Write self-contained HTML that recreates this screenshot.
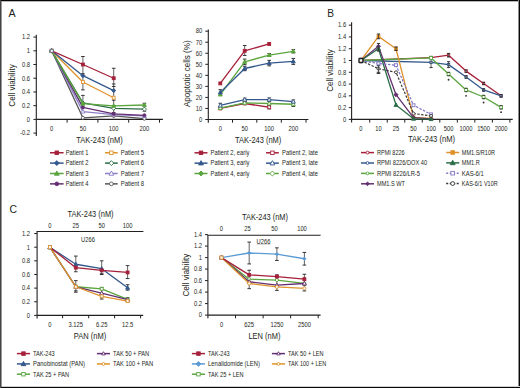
<!DOCTYPE html>
<html><head><meta charset="utf-8"><style>
html,body{margin:0;padding:0;background:#fff;}
body{width:520px;height:388px;overflow:hidden;position:relative;}
svg{display:block;position:absolute;left:0;top:0;}
text{font-family:'Liberation Sans', sans-serif;}
</style></head><body>
<svg width="520" height="388" viewBox="0 0 520 388">
<rect x="0" y="0" width="520" height="388" fill="#fff"/>
<text x="0" y="3.69" font-size="10.7" text-anchor="start" fill="#231f20" transform="translate(8.60 12.90)">A</text>
<line x1="36.30" y1="34.70" x2="36.30" y2="136.10" stroke="#231f20" stroke-width="1.1" stroke-linecap="butt"/>
<line x1="36.30" y1="119.40" x2="162.90" y2="119.40" stroke="#231f20" stroke-width="1.1" stroke-linecap="butt"/>
<line x1="33.40" y1="37.08" x2="36.30" y2="37.08" stroke="#231f20" stroke-width="1" stroke-linecap="butt"/>
<text x="0" y="2.31" font-size="6.7" text-anchor="end" fill="#231f20" transform="translate(30.10 37.08) scale(0.87 1)">1.2</text>
<line x1="33.40" y1="50.80" x2="36.30" y2="50.80" stroke="#231f20" stroke-width="1" stroke-linecap="butt"/>
<text x="0" y="2.31" font-size="6.7" text-anchor="end" fill="#231f20" transform="translate(30.10 50.80) scale(0.87 1)">1</text>
<line x1="33.40" y1="64.52" x2="36.30" y2="64.52" stroke="#231f20" stroke-width="1" stroke-linecap="butt"/>
<text x="0" y="2.31" font-size="6.7" text-anchor="end" fill="#231f20" transform="translate(30.10 64.52) scale(0.87 1)">0.8</text>
<line x1="33.40" y1="78.24" x2="36.30" y2="78.24" stroke="#231f20" stroke-width="1" stroke-linecap="butt"/>
<text x="0" y="2.31" font-size="6.7" text-anchor="end" fill="#231f20" transform="translate(30.10 78.24) scale(0.87 1)">0.6</text>
<line x1="33.40" y1="91.96" x2="36.30" y2="91.96" stroke="#231f20" stroke-width="1" stroke-linecap="butt"/>
<text x="0" y="2.31" font-size="6.7" text-anchor="end" fill="#231f20" transform="translate(30.10 91.96) scale(0.87 1)">0.4</text>
<line x1="33.40" y1="105.68" x2="36.30" y2="105.68" stroke="#231f20" stroke-width="1" stroke-linecap="butt"/>
<text x="0" y="2.31" font-size="6.7" text-anchor="end" fill="#231f20" transform="translate(30.10 105.68) scale(0.87 1)">0.2</text>
<line x1="33.40" y1="119.40" x2="36.30" y2="119.40" stroke="#231f20" stroke-width="1" stroke-linecap="butt"/>
<text x="0" y="2.31" font-size="6.7" text-anchor="end" fill="#231f20" transform="translate(30.10 119.40) scale(0.87 1)">0</text>
<line x1="33.40" y1="133.12" x2="36.30" y2="133.12" stroke="#231f20" stroke-width="1" stroke-linecap="butt"/>
<text x="0" y="2.31" font-size="6.7" text-anchor="end" fill="#231f20" transform="translate(30.10 133.12) scale(0.87 1)">-0.2</text>
<line x1="67.10" y1="119.40" x2="67.10" y2="122.70" stroke="#231f20" stroke-width="1" stroke-linecap="butt"/>
<line x1="97.90" y1="119.40" x2="97.90" y2="122.70" stroke="#231f20" stroke-width="1" stroke-linecap="butt"/>
<line x1="128.70" y1="119.40" x2="128.70" y2="122.70" stroke="#231f20" stroke-width="1" stroke-linecap="butt"/>
<line x1="159.50" y1="119.40" x2="159.50" y2="122.70" stroke="#231f20" stroke-width="1" stroke-linecap="butt"/>
<text x="0" y="2.31" font-size="6.7" text-anchor="middle" fill="#231f20" transform="translate(51.70 128.60) scale(0.87 1)">0</text>
<text x="0" y="2.31" font-size="6.7" text-anchor="middle" fill="#231f20" transform="translate(82.90 128.60) scale(0.87 1)">50</text>
<text x="0" y="2.31" font-size="6.7" text-anchor="middle" fill="#231f20" transform="translate(113.70 128.60) scale(0.87 1)">100</text>
<text x="0" y="2.31" font-size="6.7" text-anchor="middle" fill="#231f20" transform="translate(144.40 128.60) scale(0.87 1)">200</text>
<text x="0" y="3.04" font-size="8.8" text-anchor="middle" fill="#231f20" transform="translate(99.50 139.90)" textLength="46.5" lengthAdjust="spacingAndGlyphs">TAK-243 (nM)</text>
<text x="0" y="3.04" font-size="8.8" text-anchor="middle" fill="#231f20" transform="translate(11.70 85.50) rotate(-90)" textLength="42.3" lengthAdjust="spacingAndGlyphs">Cell viability</text>
<line x1="82.90" y1="56.49" x2="82.90" y2="89.90" stroke="#3a3a3a" stroke-width="0.8" stroke-linecap="butt"/>
<line x1="81.10" y1="56.49" x2="84.70" y2="56.49" stroke="#231f20" stroke-width="0.9" stroke-linecap="butt"/>
<line x1="81.10" y1="73.71" x2="84.70" y2="73.71" stroke="#231f20" stroke-width="0.9" stroke-linecap="butt"/>
<line x1="81.10" y1="89.90" x2="84.70" y2="89.90" stroke="#231f20" stroke-width="0.9" stroke-linecap="butt"/>
<line x1="82.90" y1="95.39" x2="82.90" y2="109.11" stroke="#3a3a3a" stroke-width="0.8" stroke-linecap="butt"/>
<line x1="81.10" y1="95.39" x2="84.70" y2="95.39" stroke="#231f20" stroke-width="0.9" stroke-linecap="butt"/>
<line x1="113.70" y1="68.29" x2="113.70" y2="118.03" stroke="#3a3a3a" stroke-width="0.8" stroke-linecap="butt"/>
<line x1="111.90" y1="68.29" x2="115.50" y2="68.29" stroke="#231f20" stroke-width="0.9" stroke-linecap="butt"/>
<line x1="111.90" y1="84.00" x2="115.50" y2="84.00" stroke="#231f20" stroke-width="0.9" stroke-linecap="butt"/>
<line x1="111.90" y1="86.47" x2="115.50" y2="86.47" stroke="#231f20" stroke-width="0.9" stroke-linecap="butt"/>
<line x1="111.90" y1="100.19" x2="115.50" y2="100.19" stroke="#231f20" stroke-width="0.9" stroke-linecap="butt"/>
<line x1="111.90" y1="105.68" x2="115.50" y2="105.68" stroke="#231f20" stroke-width="0.9" stroke-linecap="butt"/>
<line x1="111.90" y1="112.54" x2="115.50" y2="112.54" stroke="#231f20" stroke-width="0.9" stroke-linecap="butt"/>
<line x1="144.40" y1="103.28" x2="144.40" y2="111.17" stroke="#3a3a3a" stroke-width="0.8" stroke-linecap="butt"/>
<line x1="142.60" y1="103.28" x2="146.20" y2="103.28" stroke="#231f20" stroke-width="0.9" stroke-linecap="butt"/>
<line x1="142.60" y1="111.17" x2="146.20" y2="111.17" stroke="#231f20" stroke-width="0.9" stroke-linecap="butt"/>
<polyline points="51.70,50.80 82.90,117.82 113.70,115.97 144.40,118.71" fill="none" stroke="#555555" stroke-width="1.3" stroke-linejoin="round"/>
<circle cx="51.70" cy="50.80" r="1.55" fill="#fff" stroke="#555555" stroke-width="0.9"/>
<circle cx="82.90" cy="117.82" r="1.55" fill="#fff" stroke="#555555" stroke-width="0.9"/>
<circle cx="113.70" cy="115.97" r="1.55" fill="#fff" stroke="#555555" stroke-width="0.9"/>
<circle cx="144.40" cy="118.71" r="1.55" fill="#fff" stroke="#555555" stroke-width="0.9"/>
<polyline points="51.70,50.80 82.90,111.58 113.70,114.60 144.40,115.97" fill="none" stroke="#8c7ec8" stroke-width="1.3" stroke-linejoin="round"/>
<polygon points="51.70,48.70 53.70,52.27 49.71,52.27" fill="#fff" stroke="#8c7ec8" stroke-width="0.9"/>
<polygon points="82.90,109.48 84.90,113.05 80.91,113.05" fill="#fff" stroke="#8c7ec8" stroke-width="0.9"/>
<polygon points="113.70,112.50 115.70,116.07 111.70,116.07" fill="#fff" stroke="#8c7ec8" stroke-width="0.9"/>
<polygon points="144.40,113.87 146.40,117.44 142.41,117.44" fill="#fff" stroke="#8c7ec8" stroke-width="0.9"/>
<polyline points="51.70,50.80 82.90,107.33 113.70,113.91 144.40,115.28" fill="none" stroke="#632f72" stroke-width="1.3" stroke-linejoin="round"/>
<circle cx="51.70" cy="50.80" r="1.55" fill="#632f72" stroke="#632f72" stroke-width="0.9"/>
<circle cx="82.90" cy="107.33" r="1.55" fill="#632f72" stroke="#632f72" stroke-width="0.9"/>
<circle cx="113.70" cy="113.91" r="1.55" fill="#632f72" stroke="#632f72" stroke-width="0.9"/>
<circle cx="144.40" cy="115.28" r="1.55" fill="#632f72" stroke="#632f72" stroke-width="0.9"/>
<polyline points="51.70,50.80 82.90,102.94 113.70,108.29 144.40,109.11" fill="none" stroke="#2d6e47" stroke-width="1.3" stroke-linejoin="round"/>
<polygon points="51.70,48.75 53.75,50.80 51.70,52.85 49.65,50.80" fill="#fff" stroke="#2d6e47" stroke-width="0.9"/>
<polygon points="82.90,100.89 84.95,102.94 82.90,104.99 80.85,102.94" fill="#fff" stroke="#2d6e47" stroke-width="0.9"/>
<polygon points="113.70,106.24 115.75,108.29 113.70,110.34 111.65,108.29" fill="#fff" stroke="#2d6e47" stroke-width="0.9"/>
<polygon points="144.40,107.06 146.45,109.11 144.40,111.16 142.35,109.11" fill="#fff" stroke="#2d6e47" stroke-width="0.9"/>
<polyline points="51.70,50.80 82.90,103.69 113.70,105.82 144.40,104.99" fill="none" stroke="#5aa53e" stroke-width="1.3" stroke-linejoin="round"/>
<polygon points="51.70,48.70 53.70,52.27 49.71,52.27" fill="#5aa53e" stroke="#5aa53e" stroke-width="0.9"/>
<polygon points="82.90,101.59 84.90,105.16 80.91,105.16" fill="#5aa53e" stroke="#5aa53e" stroke-width="0.9"/>
<polygon points="113.70,103.72 115.70,107.29 111.70,107.29" fill="#5aa53e" stroke="#5aa53e" stroke-width="0.9"/>
<polygon points="144.40,102.89 146.40,106.46 142.41,106.46" fill="#5aa53e" stroke="#5aa53e" stroke-width="0.9"/>
<polyline points="51.70,50.80 82.90,82.01 113.70,97.72" fill="none" stroke="#df932d" stroke-width="1.3" stroke-linejoin="round"/>
<rect x="50.25" y="49.35" width="2.90" height="2.90" fill="#fff" stroke="#df932d" stroke-width="0.9"/>
<rect x="81.45" y="80.56" width="2.90" height="2.90" fill="#fff" stroke="#df932d" stroke-width="0.9"/>
<rect x="112.25" y="96.27" width="2.90" height="2.90" fill="#fff" stroke="#df932d" stroke-width="0.9"/>
<polyline points="51.70,50.80 82.90,75.70 113.70,90.59" fill="none" stroke="#33588c" stroke-width="1.3" stroke-linejoin="round"/>
<polygon points="51.70,48.75 53.75,50.80 51.70,52.85 49.65,50.80" fill="#33588c" stroke="#33588c" stroke-width="0.9"/>
<polygon points="82.90,73.65 84.95,75.70 82.90,77.75 80.85,75.70" fill="#33588c" stroke="#33588c" stroke-width="0.9"/>
<polygon points="113.70,88.54 115.75,90.59 113.70,92.64 111.65,90.59" fill="#33588c" stroke="#33588c" stroke-width="0.9"/>
<polyline points="51.70,50.80 82.90,64.52 113.70,78.24" fill="none" stroke="#a6203a" stroke-width="1.3" stroke-linejoin="round"/>
<rect x="81.45" y="63.07" width="2.90" height="2.90" fill="#a6203a" stroke="#a6203a" stroke-width="0.9"/>
<rect x="112.25" y="76.79" width="2.90" height="2.90" fill="#a6203a" stroke="#a6203a" stroke-width="0.9"/>
<rect x="50.18" y="49.28" width="3.04" height="3.04" fill="#fff" stroke="#6a6a7a" stroke-width="0.9"/>
<line x1="50.00" y1="152.75" x2="63.60" y2="152.75" stroke="#a6203a" stroke-width="1.5" stroke-linecap="butt"/>
<rect x="55.06" y="151.01" width="3.48" height="3.48" fill="#a6203a" stroke="#a6203a" stroke-width="0.9"/>
<text x="0" y="2.31" font-size="6.7" text-anchor="start" fill="#231f20" transform="translate(65.80 152.75)" textLength="22.6" lengthAdjust="spacingAndGlyphs">Patient 1</text>
<line x1="50.00" y1="163.12" x2="63.60" y2="163.12" stroke="#33588c" stroke-width="1.5" stroke-linecap="butt"/>
<polygon points="56.80,160.66 59.26,163.12 56.80,165.58 54.34,163.12" fill="#33588c" stroke="#33588c" stroke-width="0.9"/>
<text x="0" y="2.31" font-size="6.7" text-anchor="start" fill="#231f20" transform="translate(65.80 163.12)" textLength="22.6" lengthAdjust="spacingAndGlyphs">Patient 2</text>
<line x1="50.00" y1="173.49" x2="63.60" y2="173.49" stroke="#5aa53e" stroke-width="1.5" stroke-linecap="butt"/>
<polygon points="56.80,170.97 59.19,175.25 54.41,175.25" fill="#5aa53e" stroke="#5aa53e" stroke-width="0.9"/>
<text x="0" y="2.31" font-size="6.7" text-anchor="start" fill="#231f20" transform="translate(65.80 173.49)" textLength="22.6" lengthAdjust="spacingAndGlyphs">Patient 3</text>
<line x1="50.00" y1="183.86" x2="63.60" y2="183.86" stroke="#632f72" stroke-width="1.5" stroke-linecap="butt"/>
<circle cx="56.80" cy="183.86" r="1.86" fill="#632f72" stroke="#632f72" stroke-width="0.9"/>
<text x="0" y="2.31" font-size="6.7" text-anchor="start" fill="#231f20" transform="translate(65.80 183.86)" textLength="22.6" lengthAdjust="spacingAndGlyphs">Patient 4</text>
<line x1="105.00" y1="152.75" x2="117.70" y2="152.75" stroke="#df932d" stroke-width="1.5" stroke-linecap="butt"/>
<rect x="109.61" y="151.01" width="3.48" height="3.48" fill="#fff" stroke="#df932d" stroke-width="0.9"/>
<text x="0" y="2.31" font-size="6.7" text-anchor="start" fill="#231f20" transform="translate(120.80 152.75)" textLength="23.2" lengthAdjust="spacingAndGlyphs">Patient 5</text>
<line x1="105.00" y1="163.12" x2="117.70" y2="163.12" stroke="#2d6e47" stroke-width="1.5" stroke-linecap="butt"/>
<polygon points="111.35,160.66 113.81,163.12 111.35,165.58 108.89,163.12" fill="#fff" stroke="#2d6e47" stroke-width="0.9"/>
<text x="0" y="2.31" font-size="6.7" text-anchor="start" fill="#231f20" transform="translate(120.80 163.12)" textLength="23.2" lengthAdjust="spacingAndGlyphs">Patient 6</text>
<line x1="105.00" y1="173.49" x2="117.70" y2="173.49" stroke="#8c7ec8" stroke-width="1.5" stroke-linecap="butt"/>
<polygon points="111.35,170.97 113.74,175.25 108.96,175.25" fill="#fff" stroke="#8c7ec8" stroke-width="0.9"/>
<text x="0" y="2.31" font-size="6.7" text-anchor="start" fill="#231f20" transform="translate(120.80 173.49)" textLength="23.2" lengthAdjust="spacingAndGlyphs">Patient 7</text>
<line x1="105.00" y1="183.86" x2="117.70" y2="183.86" stroke="#555555" stroke-width="1.5" stroke-linecap="butt"/>
<circle cx="111.35" cy="183.86" r="1.86" fill="#fff" stroke="#555555" stroke-width="0.9"/>
<text x="0" y="2.31" font-size="6.7" text-anchor="start" fill="#231f20" transform="translate(120.80 183.86)" textLength="23.2" lengthAdjust="spacingAndGlyphs">Patient 8</text>
<line x1="208.30" y1="29.50" x2="208.30" y2="122.70" stroke="#231f20" stroke-width="1.1" stroke-linecap="butt"/>
<line x1="208.30" y1="119.50" x2="308.40" y2="119.50" stroke="#231f20" stroke-width="1.1" stroke-linecap="butt"/>
<line x1="205.30" y1="119.50" x2="208.30" y2="119.50" stroke="#231f20" stroke-width="1" stroke-linecap="butt"/>
<text x="0" y="2.31" font-size="6.7" text-anchor="end" fill="#231f20" transform="translate(202.30 119.50) scale(0.87 1)">0</text>
<line x1="205.30" y1="108.46" x2="208.30" y2="108.46" stroke="#231f20" stroke-width="1" stroke-linecap="butt"/>
<text x="0" y="2.31" font-size="6.7" text-anchor="end" fill="#231f20" transform="translate(202.30 108.46) scale(0.87 1)">10</text>
<line x1="205.30" y1="97.42" x2="208.30" y2="97.42" stroke="#231f20" stroke-width="1" stroke-linecap="butt"/>
<text x="0" y="2.31" font-size="6.7" text-anchor="end" fill="#231f20" transform="translate(202.30 97.42) scale(0.87 1)">20</text>
<line x1="205.30" y1="86.38" x2="208.30" y2="86.38" stroke="#231f20" stroke-width="1" stroke-linecap="butt"/>
<text x="0" y="2.31" font-size="6.7" text-anchor="end" fill="#231f20" transform="translate(202.30 86.38) scale(0.87 1)">30</text>
<line x1="205.30" y1="75.34" x2="208.30" y2="75.34" stroke="#231f20" stroke-width="1" stroke-linecap="butt"/>
<text x="0" y="2.31" font-size="6.7" text-anchor="end" fill="#231f20" transform="translate(202.30 75.34) scale(0.87 1)">40</text>
<line x1="205.30" y1="64.30" x2="208.30" y2="64.30" stroke="#231f20" stroke-width="1" stroke-linecap="butt"/>
<text x="0" y="2.31" font-size="6.7" text-anchor="end" fill="#231f20" transform="translate(202.30 64.30) scale(0.87 1)">50</text>
<line x1="205.30" y1="53.26" x2="208.30" y2="53.26" stroke="#231f20" stroke-width="1" stroke-linecap="butt"/>
<text x="0" y="2.31" font-size="6.7" text-anchor="end" fill="#231f20" transform="translate(202.30 53.26) scale(0.87 1)">60</text>
<line x1="205.30" y1="42.22" x2="208.30" y2="42.22" stroke="#231f20" stroke-width="1" stroke-linecap="butt"/>
<text x="0" y="2.31" font-size="6.7" text-anchor="end" fill="#231f20" transform="translate(202.30 42.22) scale(0.87 1)">70</text>
<line x1="205.30" y1="31.18" x2="208.30" y2="31.18" stroke="#231f20" stroke-width="1" stroke-linecap="butt"/>
<text x="0" y="2.31" font-size="6.7" text-anchor="end" fill="#231f20" transform="translate(202.30 31.18) scale(0.87 1)">80</text>
<line x1="232.50" y1="119.50" x2="232.50" y2="122.70" stroke="#231f20" stroke-width="1" stroke-linecap="butt"/>
<line x1="256.80" y1="119.50" x2="256.80" y2="122.70" stroke="#231f20" stroke-width="1" stroke-linecap="butt"/>
<line x1="281.30" y1="119.50" x2="281.30" y2="122.70" stroke="#231f20" stroke-width="1" stroke-linecap="butt"/>
<line x1="306.00" y1="119.50" x2="306.00" y2="122.70" stroke="#231f20" stroke-width="1" stroke-linecap="butt"/>
<text x="0" y="2.31" font-size="6.7" text-anchor="middle" fill="#231f20" transform="translate(220.30 128.70) scale(0.87 1)">0</text>
<text x="0" y="2.31" font-size="6.7" text-anchor="middle" fill="#231f20" transform="translate(244.70 128.70) scale(0.87 1)">50</text>
<text x="0" y="2.31" font-size="6.7" text-anchor="middle" fill="#231f20" transform="translate(269.20 128.70) scale(0.87 1)">100</text>
<text x="0" y="2.31" font-size="6.7" text-anchor="middle" fill="#231f20" transform="translate(293.30 128.70) scale(0.87 1)">200</text>
<text x="0" y="3.04" font-size="8.8" text-anchor="middle" fill="#231f20" transform="translate(258.10 139.50)" textLength="46.3" lengthAdjust="spacingAndGlyphs">TAK-243 (nM)</text>
<text x="0" y="3.04" font-size="8.8" text-anchor="middle" fill="#231f20" transform="translate(187.20 73.70) rotate(-90)" textLength="66.7" lengthAdjust="spacingAndGlyphs">Apoptotic cells (%)</text>
<line x1="244.70" y1="45.53" x2="244.70" y2="55.47" stroke="#3a3a3a" stroke-width="0.8" stroke-linecap="butt"/>
<line x1="242.90" y1="45.53" x2="246.50" y2="45.53" stroke="#231f20" stroke-width="0.9" stroke-linecap="butt"/>
<line x1="242.90" y1="55.47" x2="246.50" y2="55.47" stroke="#231f20" stroke-width="0.9" stroke-linecap="butt"/>
<line x1="244.70" y1="59.11" x2="244.70" y2="64.63" stroke="#3a3a3a" stroke-width="0.8" stroke-linecap="butt"/>
<line x1="242.90" y1="59.11" x2="246.50" y2="59.11" stroke="#231f20" stroke-width="0.9" stroke-linecap="butt"/>
<line x1="242.90" y1="64.63" x2="246.50" y2="64.63" stroke="#231f20" stroke-width="0.9" stroke-linecap="butt"/>
<line x1="244.70" y1="66.29" x2="244.70" y2="70.70" stroke="#3a3a3a" stroke-width="0.8" stroke-linecap="butt"/>
<line x1="242.90" y1="66.29" x2="246.50" y2="66.29" stroke="#231f20" stroke-width="0.9" stroke-linecap="butt"/>
<line x1="242.90" y1="70.70" x2="246.50" y2="70.70" stroke="#231f20" stroke-width="0.9" stroke-linecap="butt"/>
<line x1="269.20" y1="53.59" x2="269.20" y2="56.46" stroke="#3a3a3a" stroke-width="0.8" stroke-linecap="butt"/>
<line x1="267.40" y1="53.59" x2="271.00" y2="53.59" stroke="#231f20" stroke-width="0.9" stroke-linecap="butt"/>
<line x1="267.40" y1="56.46" x2="271.00" y2="56.46" stroke="#231f20" stroke-width="0.9" stroke-linecap="butt"/>
<line x1="269.20" y1="60.33" x2="269.20" y2="65.85" stroke="#3a3a3a" stroke-width="0.8" stroke-linecap="butt"/>
<line x1="267.40" y1="60.33" x2="271.00" y2="60.33" stroke="#231f20" stroke-width="0.9" stroke-linecap="butt"/>
<line x1="267.40" y1="65.85" x2="271.00" y2="65.85" stroke="#231f20" stroke-width="0.9" stroke-linecap="butt"/>
<line x1="293.30" y1="49.62" x2="293.30" y2="52.93" stroke="#3a3a3a" stroke-width="0.8" stroke-linecap="butt"/>
<line x1="291.50" y1="49.62" x2="295.10" y2="49.62" stroke="#231f20" stroke-width="0.9" stroke-linecap="butt"/>
<line x1="291.50" y1="52.93" x2="295.10" y2="52.93" stroke="#231f20" stroke-width="0.9" stroke-linecap="butt"/>
<line x1="293.30" y1="58.45" x2="293.30" y2="64.41" stroke="#3a3a3a" stroke-width="0.8" stroke-linecap="butt"/>
<line x1="291.50" y1="58.45" x2="295.10" y2="58.45" stroke="#231f20" stroke-width="0.9" stroke-linecap="butt"/>
<line x1="291.50" y1="64.41" x2="295.10" y2="64.41" stroke="#231f20" stroke-width="0.9" stroke-linecap="butt"/>
<line x1="220.30" y1="89.69" x2="220.30" y2="95.21" stroke="#3a3a3a" stroke-width="0.8" stroke-linecap="butt"/>
<line x1="218.50" y1="89.69" x2="222.10" y2="89.69" stroke="#231f20" stroke-width="0.9" stroke-linecap="butt"/>
<line x1="218.50" y1="95.21" x2="222.10" y2="95.21" stroke="#231f20" stroke-width="0.9" stroke-linecap="butt"/>
<line x1="220.30" y1="103.27" x2="220.30" y2="107.69" stroke="#3a3a3a" stroke-width="0.8" stroke-linecap="butt"/>
<line x1="218.50" y1="103.27" x2="222.10" y2="103.27" stroke="#231f20" stroke-width="0.9" stroke-linecap="butt"/>
<line x1="218.50" y1="107.69" x2="222.10" y2="107.69" stroke="#231f20" stroke-width="0.9" stroke-linecap="butt"/>
<line x1="244.70" y1="98.19" x2="244.70" y2="101.06" stroke="#3a3a3a" stroke-width="0.8" stroke-linecap="butt"/>
<line x1="242.90" y1="98.19" x2="246.50" y2="98.19" stroke="#231f20" stroke-width="0.9" stroke-linecap="butt"/>
<line x1="242.90" y1="101.06" x2="246.50" y2="101.06" stroke="#231f20" stroke-width="0.9" stroke-linecap="butt"/>
<line x1="269.20" y1="97.97" x2="269.20" y2="101.28" stroke="#3a3a3a" stroke-width="0.8" stroke-linecap="butt"/>
<line x1="267.40" y1="97.97" x2="271.00" y2="97.97" stroke="#231f20" stroke-width="0.9" stroke-linecap="butt"/>
<line x1="267.40" y1="101.28" x2="271.00" y2="101.28" stroke="#231f20" stroke-width="0.9" stroke-linecap="butt"/>
<line x1="293.30" y1="99.96" x2="293.30" y2="103.27" stroke="#3a3a3a" stroke-width="0.8" stroke-linecap="butt"/>
<line x1="291.50" y1="99.96" x2="295.10" y2="99.96" stroke="#231f20" stroke-width="0.9" stroke-linecap="butt"/>
<line x1="291.50" y1="103.27" x2="295.10" y2="103.27" stroke="#231f20" stroke-width="0.9" stroke-linecap="butt"/>
<line x1="244.70" y1="101.39" x2="244.70" y2="104.26" stroke="#3a3a3a" stroke-width="0.8" stroke-linecap="butt"/>
<line x1="242.90" y1="101.39" x2="246.50" y2="101.39" stroke="#231f20" stroke-width="0.9" stroke-linecap="butt"/>
<line x1="242.90" y1="104.26" x2="246.50" y2="104.26" stroke="#231f20" stroke-width="0.9" stroke-linecap="butt"/>
<line x1="269.20" y1="100.73" x2="269.20" y2="106.25" stroke="#3a3a3a" stroke-width="0.8" stroke-linecap="butt"/>
<line x1="267.40" y1="100.73" x2="271.00" y2="100.73" stroke="#231f20" stroke-width="0.9" stroke-linecap="butt"/>
<line x1="267.40" y1="106.25" x2="271.00" y2="106.25" stroke="#231f20" stroke-width="0.9" stroke-linecap="butt"/>
<line x1="293.30" y1="102.06" x2="293.30" y2="106.47" stroke="#3a3a3a" stroke-width="0.8" stroke-linecap="butt"/>
<line x1="291.50" y1="102.06" x2="295.10" y2="102.06" stroke="#231f20" stroke-width="0.9" stroke-linecap="butt"/>
<line x1="291.50" y1="106.47" x2="295.10" y2="106.47" stroke="#231f20" stroke-width="0.9" stroke-linecap="butt"/>
<line x1="269.20" y1="105.59" x2="269.20" y2="108.90" stroke="#3a3a3a" stroke-width="0.8" stroke-linecap="butt"/>
<line x1="267.40" y1="105.59" x2="271.00" y2="105.59" stroke="#231f20" stroke-width="0.9" stroke-linecap="butt"/>
<line x1="267.40" y1="108.90" x2="271.00" y2="108.90" stroke="#231f20" stroke-width="0.9" stroke-linecap="butt"/>
<polyline points="220.30,108.46 244.70,103.49 269.20,107.25" fill="none" stroke="#a6203a" stroke-width="1.3" stroke-linejoin="round"/>
<rect x="218.85" y="107.01" width="2.90" height="2.90" fill="#fff" stroke="#a6203a" stroke-width="0.9"/>
<rect x="243.25" y="102.04" width="2.90" height="2.90" fill="#fff" stroke="#a6203a" stroke-width="0.9"/>
<rect x="267.75" y="105.80" width="2.90" height="2.90" fill="#fff" stroke="#a6203a" stroke-width="0.9"/>
<polyline points="220.30,108.02 244.70,102.83 269.20,103.49 293.30,104.26" fill="none" stroke="#5aa53e" stroke-width="1.3" stroke-linejoin="round"/>
<polygon points="220.30,105.92 222.30,109.49 218.31,109.49" fill="#fff" stroke="#5aa53e" stroke-width="0.9"/>
<polygon points="244.70,100.73 246.69,104.30 242.70,104.30" fill="#fff" stroke="#5aa53e" stroke-width="0.9"/>
<polygon points="269.20,101.39 271.19,104.96 267.20,104.96" fill="#fff" stroke="#5aa53e" stroke-width="0.9"/>
<polygon points="293.30,102.16 295.30,105.73 291.31,105.73" fill="#fff" stroke="#5aa53e" stroke-width="0.9"/>
<polyline points="220.30,105.48 244.70,99.63 269.20,99.63 293.30,101.62" fill="none" stroke="#33588c" stroke-width="1.3" stroke-linejoin="round"/>
<polygon points="220.30,103.38 222.30,106.95 218.31,106.95" fill="#fff" stroke="#33588c" stroke-width="0.9"/>
<polygon points="244.70,97.53 246.69,101.10 242.70,101.10" fill="#fff" stroke="#33588c" stroke-width="0.9"/>
<polygon points="269.20,97.53 271.19,101.10 267.20,101.10" fill="#fff" stroke="#33588c" stroke-width="0.9"/>
<polygon points="293.30,99.52 295.30,103.09 291.31,103.09" fill="#fff" stroke="#33588c" stroke-width="0.9"/>
<polyline points="220.30,94.55 244.70,61.87 269.20,55.03 293.30,51.27" fill="none" stroke="#5aa53e" stroke-width="1.3" stroke-linejoin="round"/>
<polygon points="220.30,92.45 222.30,96.02 218.31,96.02" fill="#5aa53e" stroke="#5aa53e" stroke-width="0.9"/>
<polygon points="244.70,59.77 246.69,63.34 242.70,63.34" fill="#5aa53e" stroke="#5aa53e" stroke-width="0.9"/>
<polygon points="269.20,52.93 271.19,56.50 267.20,56.50" fill="#5aa53e" stroke="#5aa53e" stroke-width="0.9"/>
<polygon points="293.30,49.17 295.30,52.74 291.31,52.74" fill="#5aa53e" stroke="#5aa53e" stroke-width="0.9"/>
<polyline points="220.30,92.45 244.70,68.50 269.20,63.09 293.30,61.43" fill="none" stroke="#33588c" stroke-width="1.3" stroke-linejoin="round"/>
<polygon points="220.30,90.35 222.30,93.92 218.31,93.92" fill="#33588c" stroke="#33588c" stroke-width="0.9"/>
<polygon points="244.70,66.40 246.69,69.97 242.70,69.97" fill="#33588c" stroke="#33588c" stroke-width="0.9"/>
<polygon points="269.20,60.99 271.19,64.56 267.20,64.56" fill="#33588c" stroke="#33588c" stroke-width="0.9"/>
<polygon points="293.30,59.33 295.30,62.90 291.31,62.90" fill="#33588c" stroke="#33588c" stroke-width="0.9"/>
<polyline points="220.30,83.40 244.70,50.83 269.20,43.99" fill="none" stroke="#a6203a" stroke-width="1.3" stroke-linejoin="round"/>
<rect x="218.85" y="81.95" width="2.90" height="2.90" fill="#a6203a" stroke="#a6203a" stroke-width="0.9"/>
<rect x="243.25" y="49.38" width="2.90" height="2.90" fill="#a6203a" stroke="#a6203a" stroke-width="0.9"/>
<rect x="267.75" y="42.54" width="2.90" height="2.90" fill="#a6203a" stroke="#a6203a" stroke-width="0.9"/>
<line x1="194.50" y1="152.80" x2="207.50" y2="152.80" stroke="#a6203a" stroke-width="1.5" stroke-linecap="butt"/>
<rect x="199.26" y="151.06" width="3.48" height="3.48" fill="#a6203a" stroke="#a6203a" stroke-width="0.9"/>
<text x="0" y="2.31" font-size="6.7" text-anchor="start" fill="#231f20" transform="translate(210.50 152.80)" textLength="39" lengthAdjust="spacingAndGlyphs">Patient 2, early</text>
<line x1="194.50" y1="163.15" x2="207.50" y2="163.15" stroke="#33588c" stroke-width="1.5" stroke-linecap="butt"/>
<polygon points="201.00,160.63 203.39,164.91 198.61,164.91" fill="#33588c" stroke="#33588c" stroke-width="0.9"/>
<text x="0" y="2.31" font-size="6.7" text-anchor="start" fill="#231f20" transform="translate(210.50 163.15)" textLength="39" lengthAdjust="spacingAndGlyphs">Patient 3, early</text>
<line x1="194.50" y1="173.50" x2="207.50" y2="173.50" stroke="#5aa53e" stroke-width="1.5" stroke-linecap="butt"/>
<polygon points="201.00,171.04 203.46,173.50 201.00,175.96 198.54,173.50" fill="#5aa53e" stroke="#5aa53e" stroke-width="0.9"/>
<text x="0" y="2.31" font-size="6.7" text-anchor="start" fill="#231f20" transform="translate(210.50 173.50)" textLength="39" lengthAdjust="spacingAndGlyphs">Patient 4, early</text>
<line x1="266.00" y1="152.80" x2="278.80" y2="152.80" stroke="#a6203a" stroke-width="1.5" stroke-linecap="butt"/>
<rect x="270.66" y="151.06" width="3.48" height="3.48" fill="#fff" stroke="#a6203a" stroke-width="0.9"/>
<text x="0" y="2.31" font-size="6.7" text-anchor="start" fill="#231f20" transform="translate(282.00 152.80)" textLength="36" lengthAdjust="spacingAndGlyphs">Patient 2, late</text>
<line x1="266.00" y1="163.15" x2="278.80" y2="163.15" stroke="#33588c" stroke-width="1.5" stroke-linecap="butt"/>
<polygon points="272.40,160.63 274.79,164.91 270.01,164.91" fill="#fff" stroke="#33588c" stroke-width="0.9"/>
<text x="0" y="2.31" font-size="6.7" text-anchor="start" fill="#231f20" transform="translate(282.00 163.15)" textLength="36" lengthAdjust="spacingAndGlyphs">Patient 3, late</text>
<line x1="266.00" y1="173.50" x2="278.80" y2="173.50" stroke="#5aa53e" stroke-width="1.5" stroke-linecap="butt"/>
<polygon points="272.40,171.04 274.86,173.50 272.40,175.96 269.94,173.50" fill="#fff" stroke="#5aa53e" stroke-width="0.9"/>
<text x="0" y="2.31" font-size="6.7" text-anchor="start" fill="#231f20" transform="translate(282.00 173.50)" textLength="36" lengthAdjust="spacingAndGlyphs">Patient 4, late</text>
<line x1="351.60" y1="22.30" x2="351.60" y2="122.60" stroke="#231f20" stroke-width="1.1" stroke-linecap="butt"/>
<line x1="351.60" y1="119.40" x2="512.70" y2="119.40" stroke="#231f20" stroke-width="1.1" stroke-linecap="butt"/>
<line x1="348.80" y1="119.40" x2="351.60" y2="119.40" stroke="#231f20" stroke-width="1" stroke-linecap="butt"/>
<text x="0" y="2.31" font-size="6.7" text-anchor="end" fill="#231f20" transform="translate(346.20 119.40) scale(0.87 1)">0</text>
<line x1="348.80" y1="107.62" x2="351.60" y2="107.62" stroke="#231f20" stroke-width="1" stroke-linecap="butt"/>
<text x="0" y="2.31" font-size="6.7" text-anchor="end" fill="#231f20" transform="translate(346.20 107.62) scale(0.87 1)">0.2</text>
<line x1="348.80" y1="95.84" x2="351.60" y2="95.84" stroke="#231f20" stroke-width="1" stroke-linecap="butt"/>
<text x="0" y="2.31" font-size="6.7" text-anchor="end" fill="#231f20" transform="translate(346.20 95.84) scale(0.87 1)">0.4</text>
<line x1="348.80" y1="84.06" x2="351.60" y2="84.06" stroke="#231f20" stroke-width="1" stroke-linecap="butt"/>
<text x="0" y="2.31" font-size="6.7" text-anchor="end" fill="#231f20" transform="translate(346.20 84.06) scale(0.87 1)">0.6</text>
<line x1="348.80" y1="72.28" x2="351.60" y2="72.28" stroke="#231f20" stroke-width="1" stroke-linecap="butt"/>
<text x="0" y="2.31" font-size="6.7" text-anchor="end" fill="#231f20" transform="translate(346.20 72.28) scale(0.87 1)">0.8</text>
<line x1="348.80" y1="60.50" x2="351.60" y2="60.50" stroke="#231f20" stroke-width="1" stroke-linecap="butt"/>
<text x="0" y="2.31" font-size="6.7" text-anchor="end" fill="#231f20" transform="translate(346.20 60.50) scale(0.87 1)">1</text>
<line x1="348.80" y1="48.72" x2="351.60" y2="48.72" stroke="#231f20" stroke-width="1" stroke-linecap="butt"/>
<text x="0" y="2.31" font-size="6.7" text-anchor="end" fill="#231f20" transform="translate(346.20 48.72) scale(0.87 1)">1.2</text>
<line x1="348.80" y1="36.94" x2="351.60" y2="36.94" stroke="#231f20" stroke-width="1" stroke-linecap="butt"/>
<text x="0" y="2.31" font-size="6.7" text-anchor="end" fill="#231f20" transform="translate(346.20 36.94) scale(0.87 1)">1.4</text>
<line x1="348.80" y1="25.16" x2="351.60" y2="25.16" stroke="#231f20" stroke-width="1" stroke-linecap="butt"/>
<text x="0" y="2.31" font-size="6.7" text-anchor="end" fill="#231f20" transform="translate(346.20 25.16) scale(0.87 1)">1.6</text>
<line x1="369.72" y1="119.40" x2="369.72" y2="122.60" stroke="#231f20" stroke-width="1" stroke-linecap="butt"/>
<line x1="387.24" y1="119.40" x2="387.24" y2="122.60" stroke="#231f20" stroke-width="1" stroke-linecap="butt"/>
<line x1="404.76" y1="119.40" x2="404.76" y2="122.60" stroke="#231f20" stroke-width="1" stroke-linecap="butt"/>
<line x1="422.28" y1="119.40" x2="422.28" y2="122.60" stroke="#231f20" stroke-width="1" stroke-linecap="butt"/>
<line x1="439.80" y1="119.40" x2="439.80" y2="122.60" stroke="#231f20" stroke-width="1" stroke-linecap="butt"/>
<line x1="457.32" y1="119.40" x2="457.32" y2="122.60" stroke="#231f20" stroke-width="1" stroke-linecap="butt"/>
<line x1="474.84" y1="119.40" x2="474.84" y2="122.60" stroke="#231f20" stroke-width="1" stroke-linecap="butt"/>
<line x1="492.36" y1="119.40" x2="492.36" y2="122.60" stroke="#231f20" stroke-width="1" stroke-linecap="butt"/>
<line x1="509.88" y1="119.40" x2="509.88" y2="122.60" stroke="#231f20" stroke-width="1" stroke-linecap="butt"/>
<text x="0" y="2.31" font-size="6.7" text-anchor="middle" fill="#231f20" transform="translate(360.96 128.50) scale(0.87 1)">0</text>
<text x="0" y="2.31" font-size="6.7" text-anchor="middle" fill="#231f20" transform="translate(378.48 128.50) scale(0.87 1)">10</text>
<text x="0" y="2.31" font-size="6.7" text-anchor="middle" fill="#231f20" transform="translate(396.00 128.50) scale(0.87 1)">25</text>
<text x="0" y="2.31" font-size="6.7" text-anchor="middle" fill="#231f20" transform="translate(413.52 128.50) scale(0.87 1)">50</text>
<text x="0" y="2.31" font-size="6.7" text-anchor="middle" fill="#231f20" transform="translate(431.04 128.50) scale(0.87 1)">100</text>
<text x="0" y="2.31" font-size="6.7" text-anchor="middle" fill="#231f20" transform="translate(448.56 128.50) scale(0.87 1)">500</text>
<text x="0" y="2.31" font-size="6.7" text-anchor="middle" fill="#231f20" transform="translate(466.08 128.50) scale(0.87 1)">1000</text>
<text x="0" y="2.31" font-size="6.7" text-anchor="middle" fill="#231f20" transform="translate(483.60 128.50) scale(0.87 1)">1500</text>
<text x="0" y="2.31" font-size="6.7" text-anchor="middle" fill="#231f20" transform="translate(501.12 128.50) scale(0.87 1)">2000</text>
<text x="0" y="3.04" font-size="8.8" text-anchor="middle" fill="#231f20" transform="translate(431.50 139.40)" textLength="47" lengthAdjust="spacingAndGlyphs">TAK-243 (nM)</text>
<text x="0" y="3.04" font-size="8.8" text-anchor="middle" fill="#231f20" transform="translate(329.50 70.50) rotate(-90)" textLength="42.5" lengthAdjust="spacingAndGlyphs">Cell viability</text>
<text x="0" y="3.52" font-size="10.2" text-anchor="start" fill="#231f20" transform="translate(327.20 13.50)">B</text>
<polyline points="360.96,60.50 431.04,57.56 448.56,55.20 466.08,71.10 483.60,83.47 501.12,95.84" fill="none" stroke="#a6203a" stroke-width="1.3" stroke-linejoin="round"/>
<rect x="359.80" y="59.34" width="2.32" height="2.32" fill="#fff" stroke="#a6203a" stroke-width="0.9"/>
<rect x="429.88" y="56.40" width="2.32" height="2.32" fill="#fff" stroke="#a6203a" stroke-width="0.9"/>
<rect x="447.40" y="54.04" width="2.32" height="2.32" fill="#fff" stroke="#a6203a" stroke-width="0.9"/>
<rect x="464.92" y="69.94" width="2.32" height="2.32" fill="#fff" stroke="#a6203a" stroke-width="0.9"/>
<rect x="482.44" y="82.31" width="2.32" height="2.32" fill="#fff" stroke="#a6203a" stroke-width="0.9"/>
<rect x="499.96" y="94.68" width="2.32" height="2.32" fill="#fff" stroke="#a6203a" stroke-width="0.9"/>
<polyline points="360.96,60.50 431.04,62.38 448.56,64.62 466.08,76.99 483.60,89.95 501.12,95.84" fill="none" stroke="#33588c" stroke-width="1.3" stroke-linejoin="round"/>
<rect x="359.80" y="59.34" width="2.32" height="2.32" fill="#fff" stroke="#33588c" stroke-width="0.9"/>
<rect x="429.88" y="61.22" width="2.32" height="2.32" fill="#fff" stroke="#33588c" stroke-width="0.9"/>
<rect x="447.40" y="63.46" width="2.32" height="2.32" fill="#fff" stroke="#33588c" stroke-width="0.9"/>
<rect x="464.92" y="75.83" width="2.32" height="2.32" fill="#fff" stroke="#33588c" stroke-width="0.9"/>
<rect x="482.44" y="88.79" width="2.32" height="2.32" fill="#fff" stroke="#33588c" stroke-width="0.9"/>
<rect x="499.96" y="94.68" width="2.32" height="2.32" fill="#fff" stroke="#33588c" stroke-width="0.9"/>
<line x1="431.04" y1="56.38" x2="431.04" y2="67.57" stroke="#3a3a3a" stroke-width="0.8" stroke-linecap="butt"/>
<line x1="429.44" y1="56.38" x2="432.64" y2="56.38" stroke="#231f20" stroke-width="0.9" stroke-linecap="butt"/>
<line x1="429.44" y1="67.57" x2="432.64" y2="67.57" stroke="#231f20" stroke-width="0.9" stroke-linecap="butt"/>
<line x1="448.56" y1="53.43" x2="448.56" y2="56.97" stroke="#3a3a3a" stroke-width="0.8" stroke-linecap="butt"/>
<line x1="446.96" y1="53.43" x2="450.16" y2="53.43" stroke="#231f20" stroke-width="0.9" stroke-linecap="butt"/>
<line x1="446.96" y1="56.97" x2="450.16" y2="56.97" stroke="#231f20" stroke-width="0.9" stroke-linecap="butt"/>
<line x1="448.56" y1="61.68" x2="448.56" y2="67.57" stroke="#3a3a3a" stroke-width="0.8" stroke-linecap="butt"/>
<line x1="446.96" y1="61.68" x2="450.16" y2="61.68" stroke="#231f20" stroke-width="0.9" stroke-linecap="butt"/>
<line x1="446.96" y1="67.57" x2="450.16" y2="67.57" stroke="#231f20" stroke-width="0.9" stroke-linecap="butt"/>
<line x1="466.08" y1="69.92" x2="466.08" y2="72.28" stroke="#3a3a3a" stroke-width="0.8" stroke-linecap="butt"/>
<line x1="464.78" y1="69.92" x2="467.38" y2="69.92" stroke="#231f20" stroke-width="0.9" stroke-linecap="butt"/>
<line x1="464.78" y1="72.28" x2="467.38" y2="72.28" stroke="#231f20" stroke-width="0.9" stroke-linecap="butt"/>
<line x1="483.60" y1="82.29" x2="483.60" y2="84.65" stroke="#3a3a3a" stroke-width="0.8" stroke-linecap="butt"/>
<line x1="482.30" y1="82.29" x2="484.90" y2="82.29" stroke="#231f20" stroke-width="0.9" stroke-linecap="butt"/>
<line x1="482.30" y1="84.65" x2="484.90" y2="84.65" stroke="#231f20" stroke-width="0.9" stroke-linecap="butt"/>
<line x1="501.12" y1="94.66" x2="501.12" y2="97.02" stroke="#3a3a3a" stroke-width="0.8" stroke-linecap="butt"/>
<line x1="499.82" y1="94.66" x2="502.42" y2="94.66" stroke="#231f20" stroke-width="0.9" stroke-linecap="butt"/>
<line x1="499.82" y1="97.02" x2="502.42" y2="97.02" stroke="#231f20" stroke-width="0.9" stroke-linecap="butt"/>
<line x1="466.08" y1="75.81" x2="466.08" y2="78.17" stroke="#3a3a3a" stroke-width="0.8" stroke-linecap="butt"/>
<line x1="464.78" y1="75.81" x2="467.38" y2="75.81" stroke="#231f20" stroke-width="0.9" stroke-linecap="butt"/>
<line x1="464.78" y1="78.17" x2="467.38" y2="78.17" stroke="#231f20" stroke-width="0.9" stroke-linecap="butt"/>
<line x1="483.60" y1="88.77" x2="483.60" y2="91.13" stroke="#3a3a3a" stroke-width="0.8" stroke-linecap="butt"/>
<line x1="482.30" y1="88.77" x2="484.90" y2="88.77" stroke="#231f20" stroke-width="0.9" stroke-linecap="butt"/>
<line x1="482.30" y1="91.13" x2="484.90" y2="91.13" stroke="#231f20" stroke-width="0.9" stroke-linecap="butt"/>
<polyline points="360.96,60.50 431.04,57.91 448.56,74.05 466.08,89.95 483.60,97.02 501.12,107.33" fill="none" stroke="#5aa53e" stroke-width="1.3" stroke-linejoin="round"/>
<rect x="359.51" y="59.05" width="2.90" height="2.90" fill="#fff" stroke="#5aa53e" stroke-width="0.9"/>
<rect x="429.59" y="56.46" width="2.90" height="2.90" fill="#fff" stroke="#5aa53e" stroke-width="0.9"/>
<rect x="447.11" y="72.60" width="2.90" height="2.90" fill="#fff" stroke="#5aa53e" stroke-width="0.9"/>
<rect x="464.63" y="88.50" width="2.90" height="2.90" fill="#fff" stroke="#5aa53e" stroke-width="0.9"/>
<rect x="482.15" y="95.57" width="2.90" height="2.90" fill="#fff" stroke="#5aa53e" stroke-width="0.9"/>
<rect x="499.67" y="105.88" width="2.90" height="2.90" fill="#fff" stroke="#5aa53e" stroke-width="0.9"/>
<line x1="447.16" y1="72.28" x2="449.96" y2="72.28" stroke="#231f20" stroke-width="0.8" stroke-linecap="butt"/>
<line x1="447.16" y1="75.81" x2="449.96" y2="75.81" stroke="#231f20" stroke-width="0.8" stroke-linecap="butt"/>
<line x1="464.68" y1="88.18" x2="467.48" y2="88.18" stroke="#231f20" stroke-width="0.8" stroke-linecap="butt"/>
<line x1="464.68" y1="91.72" x2="467.48" y2="91.72" stroke="#231f20" stroke-width="0.8" stroke-linecap="butt"/>
<line x1="482.20" y1="95.25" x2="485.00" y2="95.25" stroke="#231f20" stroke-width="0.8" stroke-linecap="butt"/>
<line x1="482.20" y1="98.79" x2="485.00" y2="98.79" stroke="#231f20" stroke-width="0.8" stroke-linecap="butt"/>
<line x1="499.72" y1="105.56" x2="502.52" y2="105.56" stroke="#231f20" stroke-width="0.8" stroke-linecap="butt"/>
<line x1="499.72" y1="109.09" x2="502.52" y2="109.09" stroke="#231f20" stroke-width="0.8" stroke-linecap="butt"/>
<polyline points="360.96,60.50 378.48,36.35 396.00,48.72 413.52,117.34 431.04,118.52" fill="none" stroke="#df932d" stroke-width="1.3" stroke-linejoin="round"/>
<rect x="359.51" y="59.05" width="2.90" height="2.90" fill="#df932d" stroke="#df932d" stroke-width="0.9"/>
<rect x="377.03" y="34.90" width="2.90" height="2.90" fill="#df932d" stroke="#df932d" stroke-width="0.9"/>
<rect x="394.55" y="47.27" width="2.90" height="2.90" fill="#df932d" stroke="#df932d" stroke-width="0.9"/>
<rect x="412.07" y="115.89" width="2.90" height="2.90" fill="#df932d" stroke="#df932d" stroke-width="0.9"/>
<rect x="429.59" y="117.07" width="2.90" height="2.90" fill="#df932d" stroke="#df932d" stroke-width="0.9"/>
<polyline points="360.96,60.50 378.48,46.36 396.00,94.66 413.52,117.63 431.04,118.81" fill="none" stroke="#632f72" stroke-width="1.3" stroke-linejoin="round"/>
<polygon points="360.96,58.45 363.01,60.50 360.96,62.55 358.91,60.50" fill="#632f72" stroke="#632f72" stroke-width="0.9"/>
<polygon points="378.48,44.31 380.53,46.36 378.48,48.41 376.43,46.36" fill="#632f72" stroke="#632f72" stroke-width="0.9"/>
<polygon points="396.00,92.61 398.05,94.66 396.00,96.71 393.95,94.66" fill="#632f72" stroke="#632f72" stroke-width="0.9"/>
<polygon points="413.52,115.58 415.57,117.63 413.52,119.68 411.47,117.63" fill="#632f72" stroke="#632f72" stroke-width="0.9"/>
<polygon points="431.04,116.76 433.09,118.81 431.04,120.86 428.99,118.81" fill="#632f72" stroke="#632f72" stroke-width="0.9"/>
<polyline points="360.96,60.50 378.48,48.72 396.00,104.97 413.52,118.81 431.04,119.11" fill="none" stroke="#2d6e47" stroke-width="1.3" stroke-linejoin="round"/>
<polygon points="360.96,58.40 362.95,61.97 358.96,61.97" fill="#2d6e47" stroke="#2d6e47" stroke-width="0.9"/>
<polygon points="378.48,46.62 380.47,50.19 376.48,50.19" fill="#2d6e47" stroke="#2d6e47" stroke-width="0.9"/>
<polygon points="396.00,102.87 398.00,106.44 394.00,106.44" fill="#2d6e47" stroke="#2d6e47" stroke-width="0.9"/>
<polygon points="413.52,116.71 415.51,120.28 411.52,120.28" fill="#2d6e47" stroke="#2d6e47" stroke-width="0.9"/>
<polygon points="431.04,117.01 433.03,120.58 429.04,120.58" fill="#2d6e47" stroke="#2d6e47" stroke-width="0.9"/>
<polyline points="360.96,60.50 378.48,63.45 396.00,65.21 413.52,105.26 431.04,114.33" fill="none" stroke="#7d72c4" stroke-width="1.2" stroke-linejoin="round" stroke-dasharray="2.4,1.5"/>
<rect x="359.51" y="59.05" width="2.90" height="2.90" fill="#fff" stroke="#7d72c4" stroke-width="0.9"/>
<rect x="377.03" y="62.00" width="2.90" height="2.90" fill="#fff" stroke="#7d72c4" stroke-width="0.9"/>
<rect x="394.55" y="63.76" width="2.90" height="2.90" fill="#fff" stroke="#7d72c4" stroke-width="0.9"/>
<rect x="412.07" y="103.81" width="2.90" height="2.90" fill="#fff" stroke="#7d72c4" stroke-width="0.9"/>
<rect x="429.59" y="112.88" width="2.90" height="2.90" fill="#fff" stroke="#7d72c4" stroke-width="0.9"/>
<polyline points="360.96,60.50 378.48,68.75 396.00,72.28 413.52,113.51 431.04,115.87" fill="none" stroke="#3a3a3a" stroke-width="1.2" stroke-linejoin="round" stroke-dasharray="2.4,1.5"/>
<circle cx="360.96" cy="60.50" r="1.47" fill="#fff" stroke="#3a3a3a" stroke-width="0.9"/>
<circle cx="378.48" cy="68.75" r="1.47" fill="#fff" stroke="#3a3a3a" stroke-width="0.9"/>
<circle cx="396.00" cy="72.28" r="1.47" fill="#fff" stroke="#3a3a3a" stroke-width="0.9"/>
<circle cx="413.52" cy="113.51" r="1.47" fill="#fff" stroke="#3a3a3a" stroke-width="0.9"/>
<circle cx="431.04" cy="115.87" r="1.47" fill="#fff" stroke="#3a3a3a" stroke-width="0.9"/>
<line x1="378.48" y1="65.80" x2="378.48" y2="73.46" stroke="#3a3a3a" stroke-width="0.8" stroke-linecap="butt"/>
<line x1="376.68" y1="65.80" x2="380.28" y2="65.80" stroke="#231f20" stroke-width="0.9" stroke-linecap="butt"/>
<line x1="376.68" y1="72.28" x2="380.28" y2="72.28" stroke="#231f20" stroke-width="0.9" stroke-linecap="butt"/>
<line x1="376.68" y1="73.46" x2="380.28" y2="73.46" stroke="#231f20" stroke-width="0.9" stroke-linecap="butt"/>
<line x1="360.96" y1="58.14" x2="360.96" y2="62.86" stroke="#3a3a3a" stroke-width="0.8" stroke-linecap="butt"/>
<line x1="359.36" y1="58.14" x2="362.56" y2="58.14" stroke="#231f20" stroke-width="0.9" stroke-linecap="butt"/>
<line x1="359.36" y1="62.86" x2="362.56" y2="62.86" stroke="#231f20" stroke-width="0.9" stroke-linecap="butt"/>
<line x1="378.48" y1="34.00" x2="378.48" y2="38.71" stroke="#3a3a3a" stroke-width="0.8" stroke-linecap="butt"/>
<line x1="376.88" y1="34.00" x2="380.08" y2="34.00" stroke="#231f20" stroke-width="0.9" stroke-linecap="butt"/>
<line x1="376.88" y1="38.71" x2="380.08" y2="38.71" stroke="#231f20" stroke-width="0.9" stroke-linecap="butt"/>
<line x1="378.48" y1="43.42" x2="378.48" y2="51.08" stroke="#3a3a3a" stroke-width="0.8" stroke-linecap="butt"/>
<line x1="376.88" y1="43.42" x2="380.08" y2="43.42" stroke="#231f20" stroke-width="0.9" stroke-linecap="butt"/>
<line x1="376.88" y1="51.08" x2="380.08" y2="51.08" stroke="#231f20" stroke-width="0.9" stroke-linecap="butt"/>
<line x1="396.00" y1="46.95" x2="396.00" y2="50.49" stroke="#3a3a3a" stroke-width="0.8" stroke-linecap="butt"/>
<line x1="394.40" y1="46.95" x2="397.60" y2="46.95" stroke="#231f20" stroke-width="0.9" stroke-linecap="butt"/>
<line x1="394.40" y1="50.49" x2="397.60" y2="50.49" stroke="#231f20" stroke-width="0.9" stroke-linecap="butt"/>
<rect x="359.06" y="58.60" width="3.8" height="3.8" fill="#fff" stroke="#231f20" stroke-width="1.3"/>
<circle cx="448.56" cy="79.82" r="0.95" fill="#333"/>
<circle cx="466.08" cy="95.84" r="0.95" fill="#333"/>
<circle cx="483.60" cy="102.50" r="0.95" fill="#333"/>
<circle cx="501.12" cy="112.16" r="0.95" fill="#333"/>
<line x1="361.00" y1="152.60" x2="374.00" y2="152.60" stroke="#a6203a" stroke-width="1.5" stroke-linecap="butt"/>
<circle cx="367.50" cy="152.60" r="1.40" fill="#fff" stroke="#a6203a" stroke-width="0.9"/>
<text x="0" y="2.31" font-size="6.7" text-anchor="start" fill="#231f20" transform="translate(377.00 152.60)" textLength="27.7" lengthAdjust="spacingAndGlyphs">RPMI 8226</text>
<line x1="361.00" y1="163.00" x2="374.00" y2="163.00" stroke="#33588c" stroke-width="1.5" stroke-linecap="butt"/>
<circle cx="367.50" cy="163.00" r="1.40" fill="#fff" stroke="#33588c" stroke-width="0.9"/>
<text x="0" y="2.31" font-size="6.7" text-anchor="start" fill="#231f20" transform="translate(377.00 163.00)" textLength="50.1" lengthAdjust="spacingAndGlyphs">RPMI 8226/DOX 40</text>
<line x1="361.00" y1="173.40" x2="374.00" y2="173.40" stroke="#5aa53e" stroke-width="1.5" stroke-linecap="butt"/>
<circle cx="367.50" cy="173.40" r="1.40" fill="#fff" stroke="#5aa53e" stroke-width="0.9"/>
<text x="0" y="2.31" font-size="6.7" text-anchor="start" fill="#231f20" transform="translate(377.00 173.40)" textLength="43" lengthAdjust="spacingAndGlyphs">RPMI 8226/LR-5</text>
<line x1="361.00" y1="183.80" x2="374.00" y2="183.80" stroke="#632f72" stroke-width="1.5" stroke-linecap="butt"/>
<polygon points="367.50,181.96 369.35,183.80 367.50,185.65 365.65,183.80" fill="#632f72" stroke="#632f72" stroke-width="0.9"/>
<text x="0" y="2.31" font-size="6.7" text-anchor="start" fill="#231f20" transform="translate(377.00 183.80)" textLength="28" lengthAdjust="spacingAndGlyphs">MM1.S WT</text>
<line x1="446.20" y1="152.50" x2="459.20" y2="152.50" stroke="#df932d" stroke-width="1.5" stroke-linecap="butt"/>
<rect x="450.89" y="150.69" width="3.62" height="3.62" fill="#df932d" stroke="#df932d" stroke-width="0.9"/>
<text x="0" y="2.31" font-size="6.7" text-anchor="start" fill="#231f20" transform="translate(461.80 152.50)" textLength="33.2" lengthAdjust="spacingAndGlyphs">MM1.S/R10R</text>
<line x1="446.20" y1="162.85" x2="459.20" y2="162.85" stroke="#2d6e47" stroke-width="1.5" stroke-linecap="butt"/>
<polygon points="452.70,160.22 455.19,164.69 450.21,164.69" fill="#2d6e47" stroke="#2d6e47" stroke-width="0.9"/>
<text x="0" y="2.31" font-size="6.7" text-anchor="start" fill="#231f20" transform="translate(461.80 162.85)" textLength="18" lengthAdjust="spacingAndGlyphs">MM1.R</text>
<line x1="446.20" y1="173.20" x2="459.20" y2="173.20" stroke="#8378c6" stroke-width="1.5" stroke-linecap="butt" stroke-dasharray="2,1.5"/>
<rect x="450.89" y="171.39" width="3.62" height="3.62" fill="#fff" stroke="#8378c6" stroke-width="0.9"/>
<text x="0" y="2.31" font-size="6.7" text-anchor="start" fill="#231f20" transform="translate(461.80 173.20)" textLength="22" lengthAdjust="spacingAndGlyphs">KAS-6/1</text>
<line x1="446.20" y1="183.55" x2="459.20" y2="183.55" stroke="#333" stroke-width="1.5" stroke-linecap="butt" stroke-dasharray="2,1.5"/>
<circle cx="452.70" cy="183.55" r="1.94" fill="#fff" stroke="#333" stroke-width="0.9"/>
<text x="0" y="2.31" font-size="6.7" text-anchor="start" fill="#231f20" transform="translate(461.80 183.55)" textLength="35.9" lengthAdjust="spacingAndGlyphs">KAS-6/1 V10R</text>
<line x1="37.10" y1="231.50" x2="37.10" y2="318.50" stroke="#231f20" stroke-width="1.1" stroke-linecap="butt"/>
<line x1="37.10" y1="315.40" x2="143.20" y2="315.40" stroke="#231f20" stroke-width="1.1" stroke-linecap="butt"/>
<line x1="36.60" y1="231.50" x2="143.40" y2="231.50" stroke="#231f20" stroke-width="1.1" stroke-linecap="butt"/>
<line x1="34.20" y1="315.40" x2="37.10" y2="315.40" stroke="#231f20" stroke-width="1" stroke-linecap="butt"/>
<text x="0" y="2.31" font-size="6.7" text-anchor="end" fill="#231f20" transform="translate(30.10 315.40) scale(0.87 1)">0</text>
<line x1="34.20" y1="301.76" x2="37.10" y2="301.76" stroke="#231f20" stroke-width="1" stroke-linecap="butt"/>
<text x="0" y="2.31" font-size="6.7" text-anchor="end" fill="#231f20" transform="translate(30.10 301.76) scale(0.87 1)">0.2</text>
<line x1="34.20" y1="288.12" x2="37.10" y2="288.12" stroke="#231f20" stroke-width="1" stroke-linecap="butt"/>
<text x="0" y="2.31" font-size="6.7" text-anchor="end" fill="#231f20" transform="translate(30.10 288.12) scale(0.87 1)">0.4</text>
<line x1="34.20" y1="274.48" x2="37.10" y2="274.48" stroke="#231f20" stroke-width="1" stroke-linecap="butt"/>
<text x="0" y="2.31" font-size="6.7" text-anchor="end" fill="#231f20" transform="translate(30.10 274.48) scale(0.87 1)">0.6</text>
<line x1="34.20" y1="260.84" x2="37.10" y2="260.84" stroke="#231f20" stroke-width="1" stroke-linecap="butt"/>
<text x="0" y="2.31" font-size="6.7" text-anchor="end" fill="#231f20" transform="translate(30.10 260.84) scale(0.87 1)">0.8</text>
<line x1="34.20" y1="247.20" x2="37.10" y2="247.20" stroke="#231f20" stroke-width="1" stroke-linecap="butt"/>
<text x="0" y="2.31" font-size="6.7" text-anchor="end" fill="#231f20" transform="translate(30.10 247.20) scale(0.87 1)">1</text>
<line x1="34.20" y1="233.56" x2="37.10" y2="233.56" stroke="#231f20" stroke-width="1" stroke-linecap="butt"/>
<text x="0" y="2.31" font-size="6.7" text-anchor="end" fill="#231f20" transform="translate(30.10 233.56) scale(0.87 1)">1.2</text>
<line x1="62.60" y1="315.40" x2="62.60" y2="318.30" stroke="#231f20" stroke-width="1" stroke-linecap="butt"/>
<line x1="88.70" y1="315.40" x2="88.70" y2="318.30" stroke="#231f20" stroke-width="1" stroke-linecap="butt"/>
<line x1="114.60" y1="315.40" x2="114.60" y2="318.30" stroke="#231f20" stroke-width="1" stroke-linecap="butt"/>
<line x1="140.60" y1="315.40" x2="140.60" y2="318.30" stroke="#231f20" stroke-width="1" stroke-linecap="butt"/>
<text x="0" y="2.31" font-size="6.7" text-anchor="middle" fill="#231f20" transform="translate(49.90 324.50) scale(0.87 1)">0</text>
<text x="0" y="2.31" font-size="6.7" text-anchor="middle" fill="#231f20" transform="translate(75.80 324.50) scale(0.87 1)">3.125</text>
<text x="0" y="2.31" font-size="6.7" text-anchor="middle" fill="#231f20" transform="translate(101.70 324.50) scale(0.87 1)">6.25</text>
<text x="0" y="2.31" font-size="6.7" text-anchor="middle" fill="#231f20" transform="translate(127.60 324.50) scale(0.87 1)">12.5</text>
<text x="0" y="2.31" font-size="6.7" text-anchor="middle" fill="#231f20" transform="translate(49.90 225.20) scale(0.87 1)">0</text>
<text x="0" y="2.31" font-size="6.7" text-anchor="middle" fill="#231f20" transform="translate(75.80 225.20) scale(0.87 1)">25</text>
<text x="0" y="2.31" font-size="6.7" text-anchor="middle" fill="#231f20" transform="translate(101.70 225.20) scale(0.87 1)">50</text>
<text x="0" y="2.31" font-size="6.7" text-anchor="middle" fill="#231f20" transform="translate(127.60 225.20) scale(0.87 1)">100</text>
<text x="0" y="3.04" font-size="8.8" text-anchor="middle" fill="#231f20" transform="translate(90.00 335.50)" textLength="32.5" lengthAdjust="spacingAndGlyphs">PAN (nM)</text>
<text x="0" y="3.04" font-size="8.8" text-anchor="middle" fill="#231f20" transform="translate(90.50 214.30)" textLength="46.1" lengthAdjust="spacingAndGlyphs">TAK-243 (nM)</text>
<text x="0" y="2.31" font-size="6.7" text-anchor="middle" fill="#231f20" transform="translate(88.00 239.40)" textLength="13.8" lengthAdjust="spacingAndGlyphs">U266</text>
<text x="0" y="3.59" font-size="10.4" text-anchor="start" fill="#231f20" transform="translate(9.60 209.30)">C</text>
<line x1="75.80" y1="256.07" x2="75.80" y2="271.75" stroke="#3a3a3a" stroke-width="0.8" stroke-linecap="butt"/>
<line x1="74.00" y1="256.07" x2="77.60" y2="256.07" stroke="#231f20" stroke-width="0.9" stroke-linecap="butt"/>
<line x1="74.00" y1="271.75" x2="77.60" y2="271.75" stroke="#231f20" stroke-width="0.9" stroke-linecap="butt"/>
<line x1="75.80" y1="280.62" x2="75.80" y2="292.21" stroke="#3a3a3a" stroke-width="0.8" stroke-linecap="butt"/>
<line x1="74.00" y1="280.62" x2="77.60" y2="280.62" stroke="#231f20" stroke-width="0.9" stroke-linecap="butt"/>
<line x1="74.00" y1="290.85" x2="77.60" y2="290.85" stroke="#231f20" stroke-width="0.9" stroke-linecap="butt"/>
<line x1="74.00" y1="292.21" x2="77.60" y2="292.21" stroke="#231f20" stroke-width="0.9" stroke-linecap="butt"/>
<line x1="101.70" y1="260.84" x2="101.70" y2="274.48" stroke="#3a3a3a" stroke-width="0.8" stroke-linecap="butt"/>
<line x1="99.90" y1="260.84" x2="103.50" y2="260.84" stroke="#231f20" stroke-width="0.9" stroke-linecap="butt"/>
<line x1="99.90" y1="273.80" x2="103.50" y2="273.80" stroke="#231f20" stroke-width="0.9" stroke-linecap="butt"/>
<line x1="99.90" y1="274.48" x2="103.50" y2="274.48" stroke="#231f20" stroke-width="0.9" stroke-linecap="butt"/>
<line x1="101.70" y1="287.44" x2="101.70" y2="299.03" stroke="#3a3a3a" stroke-width="0.8" stroke-linecap="butt"/>
<line x1="99.90" y1="287.44" x2="103.50" y2="287.44" stroke="#231f20" stroke-width="0.9" stroke-linecap="butt"/>
<line x1="99.90" y1="299.03" x2="103.50" y2="299.03" stroke="#231f20" stroke-width="0.9" stroke-linecap="butt"/>
<line x1="127.60" y1="265.61" x2="127.60" y2="278.57" stroke="#3a3a3a" stroke-width="0.8" stroke-linecap="butt"/>
<line x1="125.80" y1="265.61" x2="129.40" y2="265.61" stroke="#231f20" stroke-width="0.9" stroke-linecap="butt"/>
<line x1="125.80" y1="278.57" x2="129.40" y2="278.57" stroke="#231f20" stroke-width="0.9" stroke-linecap="butt"/>
<line x1="127.60" y1="284.71" x2="127.60" y2="290.17" stroke="#3a3a3a" stroke-width="0.8" stroke-linecap="butt"/>
<line x1="125.80" y1="284.71" x2="129.40" y2="284.71" stroke="#231f20" stroke-width="0.9" stroke-linecap="butt"/>
<line x1="125.80" y1="290.17" x2="129.40" y2="290.17" stroke="#231f20" stroke-width="0.9" stroke-linecap="butt"/>
<line x1="127.60" y1="297.67" x2="127.60" y2="301.76" stroke="#3a3a3a" stroke-width="0.8" stroke-linecap="butt"/>
<line x1="125.80" y1="297.67" x2="129.40" y2="297.67" stroke="#231f20" stroke-width="0.9" stroke-linecap="butt"/>
<line x1="125.80" y1="301.76" x2="129.40" y2="301.76" stroke="#231f20" stroke-width="0.9" stroke-linecap="butt"/>
<polyline points="49.90,247.20 75.80,286.76 101.70,288.80 127.60,299.37" fill="none" stroke="#5aa53e" stroke-width="1.3" stroke-linejoin="round"/>
<rect x="48.45" y="245.75" width="2.90" height="2.90" fill="#fff" stroke="#5aa53e" stroke-width="0.9"/>
<rect x="74.35" y="285.31" width="2.90" height="2.90" fill="#fff" stroke="#5aa53e" stroke-width="0.9"/>
<rect x="100.25" y="287.35" width="2.90" height="2.90" fill="#fff" stroke="#5aa53e" stroke-width="0.9"/>
<rect x="126.15" y="297.92" width="2.90" height="2.90" fill="#fff" stroke="#5aa53e" stroke-width="0.9"/>
<polyline points="49.90,247.20 75.80,286.76 101.70,293.23 127.60,299.71" fill="none" stroke="#632f72" stroke-width="1.3" stroke-linejoin="round"/>
<polygon points="49.90,245.10 51.89,248.67 47.91,248.67" fill="#fff" stroke="#632f72" stroke-width="0.9"/>
<polygon points="75.80,284.66 77.80,288.23 73.80,288.23" fill="#fff" stroke="#632f72" stroke-width="0.9"/>
<polygon points="101.70,291.13 103.70,294.70 99.70,294.70" fill="#fff" stroke="#632f72" stroke-width="0.9"/>
<polygon points="127.60,297.61 129.59,301.18 125.60,301.18" fill="#fff" stroke="#632f72" stroke-width="0.9"/>
<polyline points="49.90,247.20 75.80,286.76 101.70,296.30 127.60,301.08" fill="none" stroke="#df932d" stroke-width="1.3" stroke-linejoin="round"/>
<rect x="48.45" y="245.75" width="2.90" height="2.90" fill="#fff" stroke="#df932d" stroke-width="0.9"/>
<rect x="74.35" y="285.31" width="2.90" height="2.90" fill="#fff" stroke="#df932d" stroke-width="0.9"/>
<rect x="100.25" y="294.85" width="2.90" height="2.90" fill="#fff" stroke="#df932d" stroke-width="0.9"/>
<rect x="126.15" y="299.63" width="2.90" height="2.90" fill="#fff" stroke="#df932d" stroke-width="0.9"/>
<polyline points="49.90,247.20 75.80,264.25 101.70,268.68 127.60,287.78" fill="none" stroke="#33588c" stroke-width="1.3" stroke-linejoin="round"/>
<polygon points="49.90,245.10 51.89,248.67 47.91,248.67" fill="#33588c" stroke="#33588c" stroke-width="0.9"/>
<polygon points="75.80,262.15 77.80,265.72 73.80,265.72" fill="#33588c" stroke="#33588c" stroke-width="0.9"/>
<polygon points="101.70,266.58 103.70,270.15 99.70,270.15" fill="#33588c" stroke="#33588c" stroke-width="0.9"/>
<polygon points="127.60,285.68 129.59,289.25 125.60,289.25" fill="#33588c" stroke="#33588c" stroke-width="0.9"/>
<polyline points="49.90,247.20 75.80,267.66 101.70,270.39 127.60,272.43" fill="none" stroke="#a6203a" stroke-width="1.3" stroke-linejoin="round"/>
<rect x="48.45" y="245.75" width="2.90" height="2.90" fill="#a6203a" stroke="#a6203a" stroke-width="0.9"/>
<rect x="74.35" y="266.21" width="2.90" height="2.90" fill="#a6203a" stroke="#a6203a" stroke-width="0.9"/>
<rect x="100.25" y="268.94" width="2.90" height="2.90" fill="#a6203a" stroke="#a6203a" stroke-width="0.9"/>
<rect x="126.15" y="270.98" width="2.90" height="2.90" fill="#a6203a" stroke="#a6203a" stroke-width="0.9"/>
<rect x="48.38" y="245.68" width="3.04" height="3.04" fill="#fff" stroke="#d9a040" stroke-width="0.9"/>
<line x1="16.90" y1="353.60" x2="30.00" y2="353.60" stroke="#a6203a" stroke-width="1.5" stroke-linecap="butt"/>
<rect x="21.71" y="351.86" width="3.48" height="3.48" fill="#a6203a" stroke="#a6203a" stroke-width="0.9"/>
<text x="0" y="2.31" font-size="6.7" text-anchor="start" fill="#231f20" transform="translate(33.10 353.60)" textLength="21.5" lengthAdjust="spacingAndGlyphs">TAK-243</text>
<line x1="16.90" y1="363.90" x2="30.00" y2="363.90" stroke="#33588c" stroke-width="1.5" stroke-linecap="butt"/>
<polygon points="23.45,361.38 25.84,365.66 21.06,365.66" fill="#33588c" stroke="#33588c" stroke-width="0.9"/>
<text x="0" y="2.31" font-size="6.7" text-anchor="start" fill="#231f20" transform="translate(33.10 363.90)" textLength="51.8" lengthAdjust="spacingAndGlyphs">Panobinostat (PAN)</text>
<line x1="16.90" y1="374.20" x2="30.00" y2="374.20" stroke="#5aa53e" stroke-width="1.5" stroke-linecap="butt"/>
<rect x="21.71" y="372.46" width="3.48" height="3.48" fill="#fff" stroke="#5aa53e" stroke-width="0.9"/>
<text x="0" y="2.31" font-size="6.7" text-anchor="start" fill="#231f20" transform="translate(33.10 374.20)" textLength="36" lengthAdjust="spacingAndGlyphs">TAK 25 + PAN</text>
<line x1="96.90" y1="353.60" x2="110.00" y2="353.60" stroke="#632f72" stroke-width="1.5" stroke-linecap="butt"/>
<polygon points="103.45,351.71 105.25,354.92 101.65,354.92" fill="#fff" stroke="#632f72" stroke-width="0.9"/>
<text x="0" y="2.31" font-size="6.7" text-anchor="start" fill="#231f20" transform="translate(113.10 353.60)" textLength="36.1" lengthAdjust="spacingAndGlyphs">TAK 50 + PAN</text>
<line x1="96.90" y1="363.90" x2="110.00" y2="363.90" stroke="#df932d" stroke-width="1.5" stroke-linecap="butt"/>
<circle cx="103.45" cy="363.90" r="1.40" fill="#fff" stroke="#df932d" stroke-width="0.9"/>
<text x="0" y="2.31" font-size="6.7" text-anchor="start" fill="#231f20" transform="translate(113.10 363.90)" textLength="40" lengthAdjust="spacingAndGlyphs">TAK 100 + PAN</text>
<line x1="207.90" y1="235.20" x2="207.90" y2="318.30" stroke="#231f20" stroke-width="1.1" stroke-linecap="butt"/>
<line x1="207.90" y1="315.10" x2="320.60" y2="315.10" stroke="#231f20" stroke-width="1.1" stroke-linecap="butt"/>
<line x1="207.40" y1="235.20" x2="320.60" y2="235.20" stroke="#231f20" stroke-width="1.1" stroke-linecap="butt"/>
<line x1="205.00" y1="315.10" x2="207.90" y2="315.10" stroke="#231f20" stroke-width="1" stroke-linecap="butt"/>
<text x="0" y="2.31" font-size="6.7" text-anchor="end" fill="#231f20" transform="translate(202.10 315.10) scale(0.87 1)">0</text>
<line x1="205.00" y1="303.60" x2="207.90" y2="303.60" stroke="#231f20" stroke-width="1" stroke-linecap="butt"/>
<text x="0" y="2.31" font-size="6.7" text-anchor="end" fill="#231f20" transform="translate(202.10 303.60) scale(0.87 1)">0.2</text>
<line x1="205.00" y1="292.10" x2="207.90" y2="292.10" stroke="#231f20" stroke-width="1" stroke-linecap="butt"/>
<text x="0" y="2.31" font-size="6.7" text-anchor="end" fill="#231f20" transform="translate(202.10 292.10) scale(0.87 1)">0.4</text>
<line x1="205.00" y1="280.60" x2="207.90" y2="280.60" stroke="#231f20" stroke-width="1" stroke-linecap="butt"/>
<text x="0" y="2.31" font-size="6.7" text-anchor="end" fill="#231f20" transform="translate(202.10 280.60) scale(0.87 1)">0.6</text>
<line x1="205.00" y1="269.10" x2="207.90" y2="269.10" stroke="#231f20" stroke-width="1" stroke-linecap="butt"/>
<text x="0" y="2.31" font-size="6.7" text-anchor="end" fill="#231f20" transform="translate(202.10 269.10) scale(0.87 1)">0.8</text>
<line x1="205.00" y1="257.60" x2="207.90" y2="257.60" stroke="#231f20" stroke-width="1" stroke-linecap="butt"/>
<text x="0" y="2.31" font-size="6.7" text-anchor="end" fill="#231f20" transform="translate(202.10 257.60) scale(0.87 1)">1</text>
<line x1="205.00" y1="246.10" x2="207.90" y2="246.10" stroke="#231f20" stroke-width="1" stroke-linecap="butt"/>
<text x="0" y="2.31" font-size="6.7" text-anchor="end" fill="#231f20" transform="translate(202.10 246.10) scale(0.87 1)">1.2</text>
<line x1="205.00" y1="234.60" x2="207.90" y2="234.60" stroke="#231f20" stroke-width="1" stroke-linecap="butt"/>
<text x="0" y="2.31" font-size="6.7" text-anchor="end" fill="#231f20" transform="translate(202.10 234.60) scale(0.87 1)">1.4</text>
<line x1="235.50" y1="315.10" x2="235.50" y2="318.30" stroke="#231f20" stroke-width="1" stroke-linecap="butt"/>
<line x1="263.10" y1="315.10" x2="263.10" y2="318.30" stroke="#231f20" stroke-width="1" stroke-linecap="butt"/>
<line x1="290.60" y1="315.10" x2="290.60" y2="318.30" stroke="#231f20" stroke-width="1" stroke-linecap="butt"/>
<line x1="318.20" y1="315.10" x2="318.20" y2="318.30" stroke="#231f20" stroke-width="1" stroke-linecap="butt"/>
<text x="0" y="2.31" font-size="6.7" text-anchor="middle" fill="#231f20" transform="translate(221.50 324.50) scale(0.87 1)">0</text>
<text x="0" y="2.31" font-size="6.7" text-anchor="middle" fill="#231f20" transform="translate(249.20 324.50) scale(0.87 1)">625</text>
<text x="0" y="2.31" font-size="6.7" text-anchor="middle" fill="#231f20" transform="translate(276.90 324.50) scale(0.87 1)">1250</text>
<text x="0" y="2.31" font-size="6.7" text-anchor="middle" fill="#231f20" transform="translate(304.40 324.50) scale(0.87 1)">2500</text>
<text x="0" y="2.31" font-size="6.7" text-anchor="middle" fill="#231f20" transform="translate(221.30 228.60) scale(0.87 1)">0</text>
<text x="0" y="2.31" font-size="6.7" text-anchor="middle" fill="#231f20" transform="translate(247.60 228.60) scale(0.87 1)">25</text>
<text x="0" y="2.31" font-size="6.7" text-anchor="middle" fill="#231f20" transform="translate(274.60 228.60) scale(0.87 1)">50</text>
<text x="0" y="2.31" font-size="6.7" text-anchor="middle" fill="#231f20" transform="translate(302.00 228.60) scale(0.87 1)">100</text>
<text x="0" y="3.04" font-size="8.8" text-anchor="middle" fill="#231f20" transform="translate(264.40 336.00)" textLength="32" lengthAdjust="spacingAndGlyphs">LEN (nM)</text>
<text x="0" y="3.04" font-size="8.8" text-anchor="middle" fill="#231f20" transform="translate(265.00 217.30)" textLength="46" lengthAdjust="spacingAndGlyphs">TAK-243 (nM)</text>
<text x="0" y="2.31" font-size="6.7" text-anchor="middle" fill="#231f20" transform="translate(263.55 241.50)" textLength="13.9" lengthAdjust="spacingAndGlyphs">U266</text>
<line x1="256.60" y1="244.40" x2="270.50" y2="244.40" stroke="#aaa" stroke-width="0.5" stroke-linecap="butt"/>
<text x="0" y="3.04" font-size="8.8" text-anchor="middle" fill="#231f20" transform="translate(185.90 275.10) rotate(-90)" textLength="43" lengthAdjust="spacingAndGlyphs">Cell viability</text>
<line x1="249.20" y1="242.08" x2="249.20" y2="263.93" stroke="#3a3a3a" stroke-width="0.8" stroke-linecap="butt"/>
<line x1="247.40" y1="242.08" x2="251.00" y2="242.08" stroke="#231f20" stroke-width="0.9" stroke-linecap="butt"/>
<line x1="247.40" y1="263.93" x2="251.00" y2="263.93" stroke="#231f20" stroke-width="0.9" stroke-linecap="butt"/>
<line x1="276.90" y1="247.83" x2="276.90" y2="260.48" stroke="#3a3a3a" stroke-width="0.8" stroke-linecap="butt"/>
<line x1="275.10" y1="247.83" x2="278.70" y2="247.83" stroke="#231f20" stroke-width="0.9" stroke-linecap="butt"/>
<line x1="275.10" y1="260.48" x2="278.70" y2="260.48" stroke="#231f20" stroke-width="0.9" stroke-linecap="butt"/>
<line x1="304.40" y1="252.43" x2="304.40" y2="265.08" stroke="#3a3a3a" stroke-width="0.8" stroke-linecap="butt"/>
<line x1="302.60" y1="252.43" x2="306.20" y2="252.43" stroke="#231f20" stroke-width="0.9" stroke-linecap="butt"/>
<line x1="302.60" y1="265.08" x2="306.20" y2="265.08" stroke="#231f20" stroke-width="0.9" stroke-linecap="butt"/>
<line x1="249.20" y1="270.25" x2="249.20" y2="288.65" stroke="#3a3a3a" stroke-width="0.8" stroke-linecap="butt"/>
<line x1="247.40" y1="270.25" x2="251.00" y2="270.25" stroke="#231f20" stroke-width="0.9" stroke-linecap="butt"/>
<line x1="247.40" y1="288.65" x2="251.00" y2="288.65" stroke="#231f20" stroke-width="0.9" stroke-linecap="butt"/>
<line x1="276.90" y1="274.85" x2="276.90" y2="290.38" stroke="#3a3a3a" stroke-width="0.8" stroke-linecap="butt"/>
<line x1="275.10" y1="274.85" x2="278.70" y2="274.85" stroke="#231f20" stroke-width="0.9" stroke-linecap="butt"/>
<line x1="275.10" y1="290.38" x2="278.70" y2="290.38" stroke="#231f20" stroke-width="0.9" stroke-linecap="butt"/>
<line x1="304.40" y1="274.28" x2="304.40" y2="290.95" stroke="#3a3a3a" stroke-width="0.8" stroke-linecap="butt"/>
<line x1="302.60" y1="274.28" x2="306.20" y2="274.28" stroke="#231f20" stroke-width="0.9" stroke-linecap="butt"/>
<line x1="302.60" y1="285.20" x2="306.20" y2="285.20" stroke="#231f20" stroke-width="0.9" stroke-linecap="butt"/>
<line x1="302.60" y1="290.95" x2="306.20" y2="290.95" stroke="#231f20" stroke-width="0.9" stroke-linecap="butt"/>
<polyline points="221.50,257.60 249.20,279.16 276.90,280.03 304.40,283.48" fill="none" stroke="#5aa53e" stroke-width="1.3" stroke-linejoin="round"/>
<circle cx="221.50" cy="257.60" r="1.55" fill="#fff" stroke="#5aa53e" stroke-width="0.9"/>
<circle cx="249.20" cy="279.16" r="1.55" fill="#fff" stroke="#5aa53e" stroke-width="0.9"/>
<circle cx="276.90" cy="280.03" r="1.55" fill="#fff" stroke="#5aa53e" stroke-width="0.9"/>
<circle cx="304.40" cy="283.48" r="1.55" fill="#fff" stroke="#5aa53e" stroke-width="0.9"/>
<polyline points="221.50,257.60 249.20,281.75 276.90,285.20 304.40,283.48" fill="none" stroke="#632f72" stroke-width="1.3" stroke-linejoin="round"/>
<polygon points="221.50,255.50 223.50,259.07 219.50,259.07" fill="#fff" stroke="#632f72" stroke-width="0.9"/>
<polygon points="249.20,279.65 251.19,283.22 247.20,283.22" fill="#fff" stroke="#632f72" stroke-width="0.9"/>
<polygon points="276.90,283.10 278.89,286.67 274.90,286.67" fill="#fff" stroke="#632f72" stroke-width="0.9"/>
<polygon points="304.40,281.38 306.39,284.95 302.40,284.95" fill="#fff" stroke="#632f72" stroke-width="0.9"/>
<polyline points="221.50,257.60 249.20,283.48 276.90,286.93 304.40,288.36" fill="none" stroke="#df932d" stroke-width="1.3" stroke-linejoin="round"/>
<circle cx="221.50" cy="257.60" r="1.55" fill="#fff" stroke="#df932d" stroke-width="0.9"/>
<circle cx="249.20" cy="283.48" r="1.55" fill="#fff" stroke="#df932d" stroke-width="0.9"/>
<circle cx="276.90" cy="286.93" r="1.55" fill="#fff" stroke="#df932d" stroke-width="0.9"/>
<circle cx="304.40" cy="288.36" r="1.55" fill="#fff" stroke="#df932d" stroke-width="0.9"/>
<polyline points="221.50,257.60 249.20,274.85 276.90,276.58 304.40,279.16" fill="none" stroke="#a6203a" stroke-width="1.3" stroke-linejoin="round"/>
<rect x="220.05" y="256.15" width="2.90" height="2.90" fill="#a6203a" stroke="#a6203a" stroke-width="0.9"/>
<rect x="247.75" y="273.40" width="2.90" height="2.90" fill="#a6203a" stroke="#a6203a" stroke-width="0.9"/>
<rect x="275.45" y="275.13" width="2.90" height="2.90" fill="#a6203a" stroke="#a6203a" stroke-width="0.9"/>
<rect x="302.95" y="277.71" width="2.90" height="2.90" fill="#a6203a" stroke="#a6203a" stroke-width="0.9"/>
<polyline points="221.50,257.60 249.20,253.00 276.90,254.15 304.40,258.75" fill="none" stroke="#5b9bd5" stroke-width="1.3" stroke-linejoin="round"/>
<polygon points="221.50,255.96 223.14,257.60 221.50,259.24 219.86,257.60" fill="#5b9bd5" stroke="#5b9bd5" stroke-width="0.9"/>
<polygon points="249.20,251.36 250.84,253.00 249.20,254.64 247.56,253.00" fill="#5b9bd5" stroke="#5b9bd5" stroke-width="0.9"/>
<polygon points="276.90,252.51 278.54,254.15 276.90,255.79 275.26,254.15" fill="#5b9bd5" stroke="#5b9bd5" stroke-width="0.9"/>
<polygon points="304.40,257.11 306.04,258.75 304.40,260.39 302.76,258.75" fill="#5b9bd5" stroke="#5b9bd5" stroke-width="0.9"/>
<rect x="219.98" y="256.08" width="3.04" height="3.04" fill="#fff" stroke="#d9a040" stroke-width="0.9"/>
<line x1="191.90" y1="353.60" x2="205.00" y2="353.60" stroke="#a6203a" stroke-width="1.5" stroke-linecap="butt"/>
<rect x="196.71" y="351.86" width="3.48" height="3.48" fill="#a6203a" stroke="#a6203a" stroke-width="0.9"/>
<text x="0" y="2.31" font-size="6.7" text-anchor="start" fill="#231f20" transform="translate(208.10 353.60)" textLength="21.5" lengthAdjust="spacingAndGlyphs">TAK-243</text>
<line x1="191.90" y1="363.90" x2="205.00" y2="363.90" stroke="#5b9bd5" stroke-width="1.5" stroke-linecap="butt"/>
<polygon points="198.45,361.44 200.91,363.90 198.45,366.36 195.99,363.90" fill="#5b9bd5" stroke="#5b9bd5" stroke-width="0.9"/>
<text x="0" y="2.31" font-size="6.7" text-anchor="start" fill="#231f20" transform="translate(208.10 363.90)" textLength="51.8" lengthAdjust="spacingAndGlyphs">Lenalidomide (LEN)</text>
<line x1="191.90" y1="374.20" x2="205.00" y2="374.20" stroke="#5aa53e" stroke-width="1.5" stroke-linecap="butt"/>
<rect x="196.71" y="372.46" width="3.48" height="3.48" fill="#fff" stroke="#5aa53e" stroke-width="0.9"/>
<text x="0" y="2.31" font-size="6.7" text-anchor="start" fill="#231f20" transform="translate(208.10 374.20)" textLength="35.5" lengthAdjust="spacingAndGlyphs">TAK 25 + LEN</text>
<line x1="271.90" y1="353.60" x2="285.00" y2="353.60" stroke="#632f72" stroke-width="1.5" stroke-linecap="butt"/>
<polygon points="278.45,351.71 280.25,354.92 276.65,354.92" fill="#fff" stroke="#632f72" stroke-width="0.9"/>
<text x="0" y="2.31" font-size="6.7" text-anchor="start" fill="#231f20" transform="translate(288.10 353.60)" textLength="35.5" lengthAdjust="spacingAndGlyphs">TAK 50 + LEN</text>
<line x1="271.90" y1="363.90" x2="285.00" y2="363.90" stroke="#df932d" stroke-width="1.5" stroke-linecap="butt"/>
<circle cx="278.45" cy="363.90" r="1.40" fill="#fff" stroke="#df932d" stroke-width="0.9"/>
<text x="0" y="2.31" font-size="6.7" text-anchor="start" fill="#231f20" transform="translate(288.10 363.90)" textLength="38.1" lengthAdjust="spacingAndGlyphs">TAK 100 + LEN</text>
<g shape-rendering="crispEdges">
<rect x="0" y="0" width="520" height="1" fill="#060606"/>
<rect x="0" y="1" width="520" height="1" fill="#b8b8b8"/>
<rect x="518" y="0" width="1" height="388" fill="#909090"/>
<rect x="519" y="0" width="1" height="388" fill="#080808"/>
<rect x="0" y="386" width="520" height="1" fill="#d0d0d0"/>
<rect x="0" y="387" width="520" height="1" fill="#080808"/>
<rect x="0" y="0" width="1" height="388" fill="#444"/>
<rect x="1" y="1" width="1" height="386" fill="#9a9a9a"/>
</g>
</svg>
</body></html>
